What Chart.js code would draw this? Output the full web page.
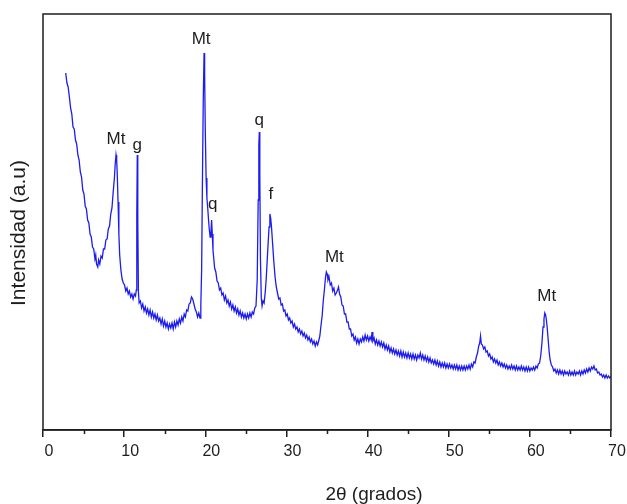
<!DOCTYPE html>
<html>
<head>
<meta charset="utf-8">
<title>DRX</title>
<script src="https://cdn.jsdelivr.net/npm/chart.js@4.4.1/dist/chart.umd.min.js"></script>
<style>
    html, body { margin: 0; padding: 0; background: #fff; }
    canvas { display: block; }
</style>
</head>
<body>
<canvas id="xrdChart" width="627" height="504"></canvas>
<script>
// Diffraction pattern: 2-theta (degrees) and intensity (a.u.)
const twoTheta = [
    2.8, 2.95, 3.1, 3.25, 3.4, 3.55, 3.7, 3.85, 4.0, 4.15, 4.3, 4.45, 4.6, 4.75, 4.9, 5.05, 5.2, 5.35, 5.5, 5.65,
    5.8, 5.95, 6.1, 6.25, 6.4, 6.5, 6.6, 6.75, 6.85, 7.0, 7.15, 7.3, 7.45, 7.6, 7.75, 7.9, 8.05, 8.2, 8.35, 8.5,
    8.65, 8.8, 8.9, 9.0, 9.08, 9.15, 9.25, 9.35, 9.45, 9.6, 9.75, 9.9, 10.05, 10.2, 10.35, 10.5, 10.65, 10.8, 10.95, 11.1,
    11.25, 11.4, 11.5, 11.56, 11.62, 11.68, 11.76, 11.85, 12.0, 12.15, 12.3, 12.45, 12.6, 12.75, 12.9, 13.05, 13.2, 13.35, 13.5, 13.65,
    13.8, 13.95, 14.1, 14.25, 14.4, 14.55, 14.7, 14.85, 15.0, 15.15, 15.3, 15.45, 15.6, 15.75, 15.9, 16.05, 16.2, 16.35, 16.5, 16.65,
    16.8, 16.95, 17.1, 17.25, 17.4, 17.55, 17.7, 17.85, 18.0, 18.15, 18.3, 18.45, 18.6, 18.75, 18.9, 19.05, 19.2, 19.35, 19.45, 19.55,
    19.65, 19.75, 19.85, 19.92, 20.0, 20.1, 20.2, 20.3, 20.4, 20.5, 20.6, 20.7, 20.78, 20.86, 20.95, 21.05, 21.15, 21.3, 21.45, 21.6,
    21.75, 21.9, 22.05, 22.2, 22.35, 22.5, 22.65, 22.8, 22.95, 23.1, 23.25, 23.4, 23.55, 23.7, 23.85, 24.0, 24.15, 24.3, 24.45, 24.6,
    24.75, 24.9, 25.05, 25.2, 25.35, 25.5, 25.65, 25.8, 25.95, 26.1, 26.25, 26.4, 26.52, 26.6, 26.66, 26.72, 26.8, 26.9, 27.0, 27.12,
    27.25, 27.38, 27.5, 27.62, 27.74, 27.86, 27.96, 28.06, 28.16, 28.3, 28.45, 28.6, 28.75, 28.9, 29.05, 29.2, 29.35, 29.5, 29.65, 29.8,
    29.95, 30.1, 30.25, 30.4, 30.55, 30.7, 30.85, 31.0, 31.15, 31.3, 31.45, 31.6, 31.75, 31.9, 32.05, 32.2, 32.35, 32.5, 32.65, 32.8,
    32.95, 33.1, 33.25, 33.4, 33.55, 33.7, 33.85, 34.0, 34.12, 34.25, 34.4, 34.55, 34.7, 34.82, 34.92, 35.02, 35.12, 35.25, 35.4, 35.55,
    35.7, 35.85, 36.0, 36.15, 36.3, 36.42, 36.55, 36.7, 36.85, 37.0, 37.15, 37.3, 37.45, 37.6, 37.75, 37.9, 38.05, 38.2, 38.35, 38.5,
    38.65, 38.8, 38.95, 39.1, 39.25, 39.4, 39.55, 39.7, 39.85, 40.0, 40.15, 40.3, 40.45, 40.55, 40.65, 40.8, 40.95, 41.1, 41.25, 41.4,
    41.55, 41.7, 41.85, 42.0, 42.15, 42.3, 42.45, 42.6, 42.75, 42.9, 43.05, 43.2, 43.35, 43.5, 43.65, 43.8, 43.95, 44.1, 44.25, 44.4,
    44.55, 44.7, 44.85, 45.0, 45.15, 45.3, 45.45, 45.6, 45.75, 45.9, 46.05, 46.2, 46.35, 46.5, 46.65, 46.8, 46.95, 47.1, 47.25, 47.4,
    47.55, 47.7, 47.85, 48.0, 48.15, 48.3, 48.45, 48.6, 48.75, 48.9, 49.05, 49.2, 49.35, 49.5, 49.65, 49.8, 49.95, 50.1, 50.25, 50.4,
    50.55, 50.7, 50.85, 51.0, 51.15, 51.3, 51.45, 51.6, 51.75, 51.9, 52.05, 52.2, 52.35, 52.5, 52.65, 52.8, 52.95, 53.1, 53.25, 53.4,
    53.55, 53.7, 53.82, 53.92, 54.02, 54.15, 54.3, 54.45, 54.6, 54.75, 54.9, 55.05, 55.2, 55.35, 55.5, 55.65, 55.8, 55.95, 56.1, 56.25,
    56.4, 56.55, 56.7, 56.85, 57.0, 57.15, 57.3, 57.45, 57.6, 57.75, 57.9, 58.05, 58.2, 58.35, 58.5, 58.65, 58.8, 58.95, 59.1, 59.25,
    59.4, 59.55, 59.7, 59.85, 60.0, 60.15, 60.3, 60.45, 60.6, 60.75, 60.9, 61.05, 61.2, 61.35, 61.5, 61.62, 61.74, 61.84, 61.94, 62.04,
    62.14, 62.26, 62.38, 62.5, 62.65, 62.8, 62.95, 63.1, 63.25, 63.4, 63.55, 63.7, 63.85, 64.0, 64.15, 64.3, 64.45, 64.6, 64.75, 64.9,
    65.05, 65.2, 65.35, 65.5, 65.65, 65.8, 65.95, 66.1, 66.25, 66.4, 66.55, 66.7, 66.85, 67.0, 67.15, 67.3, 67.45, 67.6, 67.75, 67.9,
    68.05, 68.2, 68.35, 68.5, 68.65, 68.8, 68.95, 69.1, 69.25, 69.4, 69.55, 69.7, 69.85, 70.0
];
const intensity = [
    357, 347, 343, 333, 322, 316, 303, 301, 290, 286, 275, 270, 258, 253, 240, 236, 224, 221, 210, 207,
    196, 193, 183, 181, 171, 175, 166, 163, 170, 166, 174, 172, 181, 181, 190, 191, 201, 204, 216, 222,
    238, 252, 266, 275, 270, 256, 228, 196, 175, 160, 151, 147, 145, 139, 142, 136, 139, 133, 136, 131,
    136, 134, 140, 215, 275, 210, 138, 127, 129, 122, 126, 119, 123, 117, 121, 115, 120, 113, 118, 112,
    116, 110, 115, 109, 112, 106, 111, 104, 109, 103, 107, 101, 106, 102, 107, 101, 108, 103, 109, 105,
    111, 107, 113, 109, 116, 113, 120, 119, 126, 127, 133, 131, 126, 121, 118, 113, 117, 112, 125, 160,
    250, 330, 377, 355, 300, 252, 232, 222, 210, 200, 193, 198, 210, 196, 180, 171, 162, 158, 149, 147,
    140, 142, 135, 137, 130, 134, 127, 130, 124, 128, 121, 125, 119, 123, 117, 121, 115, 119, 113, 117,
    112, 116, 111, 116, 112, 117, 113, 118, 116, 122, 124, 150, 230, 285, 298, 255, 170, 132, 124, 129,
    127, 137, 150, 168, 186, 203, 216, 212, 203, 186, 168, 153, 143, 137, 131, 132, 125, 126, 119, 120,
    114, 116, 110, 112, 107, 109, 103, 106, 101, 103, 98, 101, 96, 99, 94, 97, 92, 95, 90, 93,
    88, 91, 86, 89, 84, 88, 85, 90, 94, 104, 114, 130, 142, 153, 158, 156, 150, 153, 145, 147,
    139, 142, 135, 137, 140, 143, 136, 133, 125, 124, 116, 116, 108, 108, 101, 101, 94, 96, 90, 93,
    87, 91, 86, 91, 88, 93, 89, 95, 90, 94, 89, 93, 90, 98, 89, 92, 86, 90, 85, 89,
    84, 88, 83, 87, 81, 85, 80, 84, 78, 82, 77, 81, 76, 80, 75, 79, 74, 79, 73, 78,
    73, 77, 72, 77, 72, 76, 71, 76, 71, 75, 70, 75, 72, 77, 71, 75, 70, 74, 69, 73,
    68, 72, 67, 70, 66, 70, 65, 69, 64, 68, 63, 67, 63, 67, 62, 66, 62, 66, 62, 65,
    61, 65, 61, 65, 60, 64, 60, 64, 60, 64, 60, 64, 61, 65, 61, 66, 63, 68, 67, 73,
    77, 84, 87, 94, 86, 85, 81, 83, 78, 79, 74, 76, 71, 73, 68, 71, 67, 70, 65, 68,
    64, 67, 63, 66, 62, 65, 61, 64, 61, 65, 61, 64, 60, 64, 60, 63, 60, 64, 60, 63,
    59, 63, 59, 63, 59, 62, 60, 63, 60, 64, 62, 66, 67, 75, 88, 103, 111, 117, 115, 110,
    102, 90, 78, 70, 65, 63, 59, 61, 57, 60, 56, 60, 56, 59, 55, 59, 56, 58, 55, 59,
    55, 58, 55, 59, 55, 58, 56, 59, 55, 59, 56, 60, 57, 61, 58, 62, 59, 63, 61, 64,
    60, 61, 57, 58, 55, 56, 53, 55, 52, 55, 52, 54, 52, 54
];

// Phase labels and the 2-theta of the peak each one marks
const peakNames = ['Mt', 'g', 'Mt', 'q', 'q', 'f', 'Mt', 'Mt'];
const peakAngles = [9.0, 11.62, 19.85, 20.78, 26.66, 27.96, 34.92, 61.84];

const xTicks = [0, 10, 20, 30, 40, 50, 60, 70];
const xMinorTicks = [5, 15, 25, 35, 45, 55, 65];

const axisColor = '#1e1e1e';
const fontFamily = '"Liberation Sans", Arial, sans-serif';

// Frame, minor ticks, axis titles and peak labels
const xrdDecorations = {
    id: 'xrdDecorations',
    afterDraw(chart, args, opts) {
        const ctx = chart.ctx;
        const area = chart.chartArea;
        const xScale = chart.scales.x;
        const yScale = chart.scales.y;

        ctx.save();
        ctx.strokeStyle = axisColor;
        ctx.lineWidth = 1.5;
        ctx.strokeRect(area.left, area.top, area.right - area.left, area.bottom - area.top);

        // minor ticks on the 2-theta axis
        ctx.beginPath();
        xMinorTicks.forEach(v => {
            const px = Math.round(xScale.getPixelForValue(v)) + 0.5;
            ctx.moveTo(px, area.bottom);
            ctx.lineTo(px, area.bottom + 4);
        });
        ctx.stroke();

        // axis titles
        ctx.fillStyle = axisColor;
        ctx.textAlign = 'center';
        ctx.textBaseline = 'middle';
        ctx.font = '19px ' + fontFamily;
        ctx.fillText('2\u03b8 (grados)', opts.xTitle.x, opts.xTitle.y);
        ctx.font = '21px ' + fontFamily;
        ctx.translate(opts.yTitle.x, opts.yTitle.y);
        ctx.rotate(-Math.PI / 2);
        ctx.fillText('Intensidad (a.u)', 0, 0);
        ctx.setTransform(1, 0, 0, 1, 0, 0);

        // phase labels above their peaks
        ctx.font = '17px ' + fontFamily;
        ctx.textBaseline = 'alphabetic';
        peakNames.forEach((name, i) => {
            // highest point close to the marked angle
            let top = 0;
            twoTheta.forEach((t, j) => {
                if (Math.abs(t - peakAngles[i]) < 0.3 && intensity[j] > top) top = intensity[j];
            });
            const off = opts.offsets[i];
            const px = xScale.getPixelForValue(peakAngles[i]) + off[0];
            const py = yScale.getPixelForValue(top) + off[1];
            ctx.fillText(name, px, py);
        });
        ctx.restore();
    }
};

const ctx = document.getElementById('xrdChart').getContext('2d');
const xrdChart = new Chart(ctx, {
    type: 'line',
    data: {
        datasets: [{
            data: twoTheta.map((t, i) => ({ x: t, y: intensity[i] })),
            borderColor: '#1c1cf0',
            borderWidth: 1.3,
            pointRadius: 0,
            tension: 0,
            fill: false
        }]
    },
    options: {
        responsive: false,
        animation: false,
        events: [],
        layout: {
            padding: { top: 14, right: 16, left: 0, bottom: 0 }
        },
        plugins: {
            legend: { display: false },
            tooltip: { enabled: false },
            xrdDecorations: {
                xTitle: { x: 374, y: 495 },
                yTitle: { x: 19, y: 233 },
                offsets: [[0, -11], [0, -5], [-3, -9], [1, -11], [0, -7], [1, -15], [8, -10], [2, -12]]
            }
        },
        scales: {
            x: {
                type: 'linear',
                min: 0,
                max: 70,
                afterBuildTicks: scale => {
                    scale.ticks = xTicks.map(v => ({ value: v }));
                },
                afterFit: scale => { scale.height = 74; },
                ticks: {
                    color: axisColor,
                    padding: 5,
                    labelOffset: 6,
                    maxRotation: 0,
                    font: { size: 16, family: fontFamily }
                },
                grid: {
                    drawOnChartArea: false,
                    drawTicks: true,
                    tickLength: 7,
                    color: axisColor,
                    lineWidth: 1.5
                },
                border: { display: true, color: axisColor, width: 1.5 }
            },
            y: {
                min: 0,
                max: 416,
                afterFit: scale => { scale.width = 43; },
                ticks: { display: false },
                grid: { display: false },
                border: { display: false }
            }
        }
    },
    plugins: [xrdDecorations]
});
</script>
</body>
</html>
